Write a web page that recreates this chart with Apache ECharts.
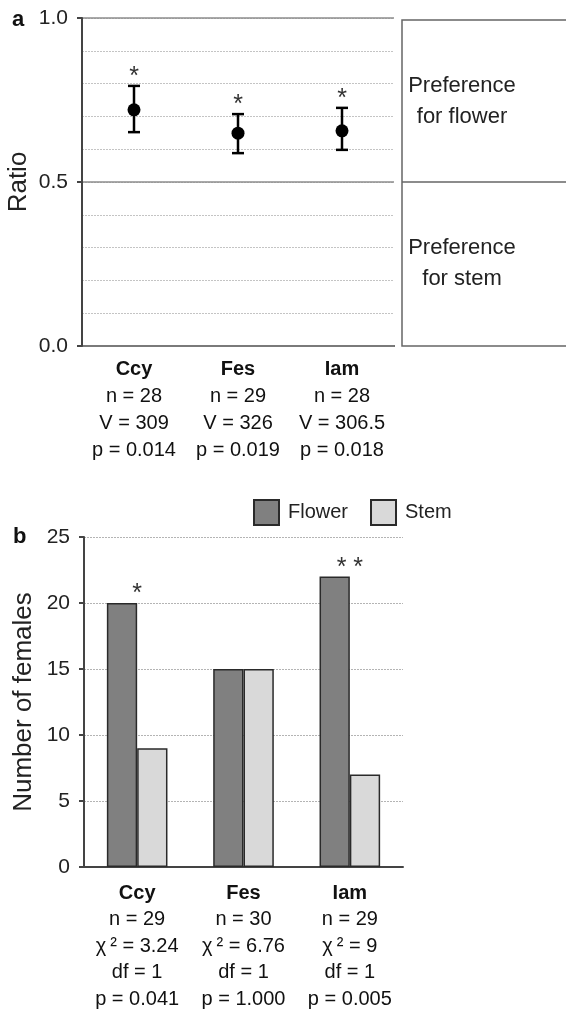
<!DOCTYPE html>
<html>
<head>
<meta charset="utf-8">
<script src="https://cdn.jsdelivr.net/npm/echarts@6/dist/echarts.min.js"></script>
<style>
  html, body { margin: 0; padding: 0; background: #fff; }
  #chart { width: 566px; height: 1010px; }
</style>
</head>
<body>
<div id="chart"></div>
<script>
// categories shared by both panels
var cats = ['Ccy', 'Fes', 'Iam'];

// panel a: ratio (mean with error bar)
var ratioMean = [0.72, 0.649, 0.656];
var ratioLow = [0.652, 0.588, 0.598];
var ratioHigh = [0.793, 0.707, 0.726];
var ratioStars = ['*', '*', '*'];
var ratioN = ['28', '29', '28'];
var ratioV = ['309', '326', '306.5'];
var ratioP = ['0.014', '0.019', '0.018'];

// panel b: number of females
var flower = [20, 15, 22];
var stem = [9, 15, 7];
var countStars = ['*', '', '* *'];
var countN = ['29', '30', '29'];
var countChi = ['3.24', '6.76', '9'];
var countDf = ['1', '1', '1'];
var countP = ['0.041', '1.000', '0.005'];

var font = '"Liberation Sans", Arial, sans-serif';
var axisColor = '#444';

var chart = echarts.init(document.getElementById('chart'));

function catLabelA(value, idx) {
    return '{h|' + value + '}\n{t|n = ' + ratioN[idx] + '}\n{t|V = ' + ratioV[idx] + '}\n{t|p = ' + ratioP[idx] + '}';
}
function catLabelB(value, idx) {
    return '{h|' + value + '}\n{t|n = ' + countN[idx] + '}\n{t|\u03c7\u2009\u00b2 = ' + countChi[idx] + '}\n{t|df = ' + countDf[idx] + '}\n{t|p = ' + countP[idx] + '}';
}
var labelRich = function (lh) {
    return {
        h: { fontFamily: font, fontSize: 20, fontWeight: 'bold', color: '#111', lineHeight: lh },
        t: { fontFamily: font, fontSize: 20, color: '#111', lineHeight: lh }
    };
};

option = {
    animation: false,
    backgroundColor: '#fff',
    textStyle: { fontFamily: font },
    legend: {
        left: 253,
        top: 499,
        padding: 0,
        itemWidth: 25,
        itemHeight: 25,
        itemGap: 22,
        icon: 'rect',
        data: ['Flower', 'Stem'],
        textStyle: { fontFamily: font, fontSize: 20, color: '#222', padding: [0, 0, 0, 4] }
    },
    grid: [
        { left: 82, top: 18, width: 312, height: 328, outerBoundsMode: 'none' },
        { left: 84, top: 537, width: 319, height: 330, outerBoundsMode: 'none' }
    ],
    xAxis: [{
        type: 'category',
        gridIndex: 0,
        data: cats,
        axisLine: { lineStyle: { color: axisColor, width: 2 } },
        axisTick: { length: 10, lineStyle: { color: axisColor, width: 2 } },
        axisLabel: { margin: 10, formatter: catLabelA, rich: labelRich(27) }
    }, {
        type: 'category',
        gridIndex: 1,
        data: cats,
        axisLine: { lineStyle: { color: axisColor, width: 2 } },
        axisTick: { length: 10, lineStyle: { color: axisColor, width: 2 } },
        axisLabel: { margin: 13, formatter: catLabelB, rich: labelRich(26.5) }
    }],
    yAxis: [{
        type: 'value',
        gridIndex: 0,
        min: 0, max: 1, interval: 0.5,
        name: 'Ratio',
        nameLocation: 'middle',
        nameGap: 50,
        nameMoveOverlap: false,
        nameTextStyle: { fontFamily: font, fontSize: 26, color: '#222' },
        axisLine: { show: true, lineStyle: { color: axisColor, width: 2 } },
        axisTick: { show: true, length: 5, lineStyle: { color: axisColor, width: 2 } },
        axisLabel: { margin: 14, fontSize: 21, color: '#222', formatter: function (v) { return v.toFixed(1); } },
        splitLine: { show: true, lineStyle: { color: '#8c8c8c', width: 1.5 } },
        z: 3
    }, {
        type: 'value',
        gridIndex: 0,
        position: 'left',
        min: 0, max: 1, interval: 0.1,
        axisLine: { show: false },
        axisTick: { show: false },
        axisLabel: { show: false },
        splitLine: { show: true, lineStyle: { color: '#c4c4c4', width: 1.2, type: [2, 1] } }
    }, {
        type: 'value',
        gridIndex: 1,
        min: 0, max: 25, interval: 5,
        name: 'Number of females',
        nameLocation: 'middle',
        nameGap: 47,
        nameMoveOverlap: false,
        nameTextStyle: { fontFamily: font, fontSize: 26, color: '#222' },
        axisLine: { show: true, lineStyle: { color: axisColor, width: 2 } },
        axisTick: { show: true, length: 5, lineStyle: { color: axisColor, width: 2 } },
        axisLabel: { margin: 14, fontSize: 21, color: '#222' },
        splitLine: { show: true, lineStyle: { color: '#b4b4b4', width: 1.2, type: [2, 1] } }
    }],
    series: [{
        type: 'custom',
        xAxisIndex: 0,
        yAxisIndex: 0,
        data: cats.map(function (c, i) { return [i, ratioMean[i], ratioLow[i], ratioHigh[i]]; }),
        renderItem: function (params, api) {
            var p = api.coord([api.value(0), api.value(1)]);
            var lo = api.coord([api.value(0), api.value(2)]);
            var hi = api.coord([api.value(0), api.value(3)]);
            var cap = 6;
            var st = { stroke: '#000', lineWidth: 2.5 };
            return {
                type: 'group',
                children: [
                    { type: 'line', shape: { x1: p[0], y1: hi[1], x2: p[0], y2: lo[1] }, style: st },
                    { type: 'line', shape: { x1: p[0] - cap, y1: hi[1], x2: p[0] + cap, y2: hi[1] }, style: st },
                    { type: 'line', shape: { x1: p[0] - cap, y1: lo[1], x2: p[0] + cap, y2: lo[1] }, style: st },
                    { type: 'circle', shape: { cx: p[0], cy: p[1], r: 6.5 }, style: { fill: '#000' } },
                    { type: 'text', x: p[0], y: hi[1] + 4, style: { text: ratioStars[params.dataIndex], fontFamily: font, fontSize: 25, fill: '#333', align: 'center', verticalAlign: 'bottom' } }
                ]
            };
        },
        z: 5
    }, {
        name: 'Flower',
        type: 'bar',
        xAxisIndex: 1,
        yAxisIndex: 2,
        data: flower,
        barGap: 0,
        barCategoryGap: '43%',
        itemStyle: { color: '#808080', borderColor: '#2a2a2a', borderWidth: 1.5 }
    }, {
        name: 'Stem',
        type: 'bar',
        xAxisIndex: 1,
        yAxisIndex: 2,
        data: stem,
        itemStyle: { color: '#d9d9d9', borderColor: '#2a2a2a', borderWidth: 1.5 }
    }, {
        type: 'custom',
        xAxisIndex: 1,
        yAxisIndex: 2,
        data: cats.map(function (c, i) { return [i, Math.max(flower[i], stem[i])]; }),
        renderItem: function (params, api) {
            var p = api.coord([api.value(0), api.value(1)]);
            return {
                type: 'text', x: p[0], y: p[1] + 4,
                style: { text: countStars[params.dataIndex], fontFamily: font, fontSize: 25, fill: '#333', align: 'center', verticalAlign: 'bottom' }
            };
        },
        z: 5
    }],
    graphic: [
        { type: 'text', left: 12, top: 9, style: { text: 'a', fontFamily: font, fontSize: 22, fontWeight: 'bold', fill: '#111' } },
        { type: 'text', left: 13, top: 526, style: { text: 'b', fontFamily: font, fontSize: 22, fontWeight: 'bold', fill: '#111' } },
        { type: 'rect', shape: { x: 402, y: 20, width: 200, height: 326 }, style: { fill: 'none', stroke: '#666', lineWidth: 1.5 } },
        { type: 'line', shape: { x1: 402, y1: 182, x2: 566, y2: 182 }, style: { stroke: '#666', lineWidth: 1.5 } },
        { type: 'text', x: 462, y: 101, style: { text: 'Preference\nfor flower', fontFamily: font, fontSize: 22, lineHeight: 31, fill: '#222', align: 'center', verticalAlign: 'middle' } },
        { type: 'text', x: 462, y: 263, style: { text: 'Preference\nfor stem', fontFamily: font, fontSize: 22, lineHeight: 31, fill: '#222', align: 'center', verticalAlign: 'middle' } }
    ]
};

chart.setOption(option);
</script>
</body>
</html>
